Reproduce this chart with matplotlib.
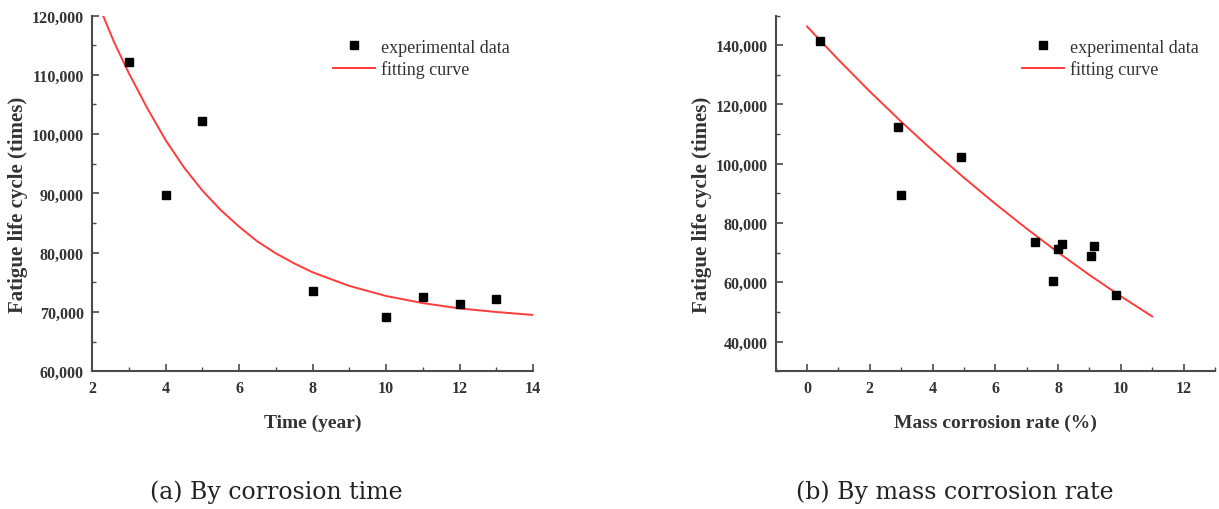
#!/usr/bin/env python3
"""Fatigue life cycle vs corrosion time / mass corrosion rate (two panels)."""

import matplotlib
matplotlib.use("Agg")
import matplotlib.pyplot as plt
from matplotlib.ticker import MultipleLocator, FuncFormatter

# ---------------------------------------------------------------------------
# Data
# ---------------------------------------------------------------------------
# (a) by corrosion time
time_years = [3, 4, 5, 8, 10, 11, 12, 13]
time_life = [112200, 89700, 102200, 73500, 69100, 72600, 71300, 72200]

time_fit_x = [2.3, 2.6, 3, 3.5, 4, 4.5, 5, 5.5, 6, 6.5, 7, 7.5, 8, 9, 10, 11, 12, 13, 14]
time_fit_y = [120000, 115500, 110300, 104400, 99000, 94400, 90500, 87200, 84400,
              81900, 79900, 78200, 76700, 74400, 72700, 71500, 70600, 70000, 69500]

# (b) by mass corrosion rate
rate_pct = [0.4, 2.9, 3.0, 4.9, 7.25, 7.85, 8.0, 8.12, 9.05, 9.15, 9.85]
rate_life = [141300, 112300, 89600, 102200, 73500, 60400, 71400, 72800, 69000, 72200, 55700]

rate_fit_x = [0, 1, 2, 3, 4, 5, 6, 7, 8, 9, 10, 11]
rate_fit_y = [146300, 135100, 124400, 114200, 104500, 95300, 86500, 78100,
              70100, 62500, 55300, 48500]

captions = ["(a) By corrosion time", "(b) By mass corrosion rate"]

SERIF = ["Liberation Serif", "DejaVu Serif"]
AX_COLOR = "#4a4a4a"
FIT_COLOR = "#ff3b3b"


def style_axes(ax, xmajor, xminor, ymajor, yminor):
    for side in ("top", "right"):
        ax.spines[side].set_visible(False)
    for side in ("left", "bottom"):
        ax.spines[side].set_color(AX_COLOR)
        ax.spines[side].set_linewidth(1.5)
    ax.xaxis.set_major_locator(MultipleLocator(xmajor))
    ax.xaxis.set_minor_locator(MultipleLocator(xminor))
    ax.yaxis.set_major_locator(MultipleLocator(ymajor))
    ax.yaxis.set_minor_locator(MultipleLocator(yminor))
    ax.yaxis.set_major_formatter(FuncFormatter(lambda v, p: f"{int(v):,}"))
    ax.tick_params(which="major", direction="in", length=5, width=1.2, color=AX_COLOR,
                   labelsize=11.5, pad=6)
    ax.tick_params(which="minor", direction="in", length=3, width=1.0, color=AX_COLOR)
    for lab in ax.get_xticklabels() + ax.get_yticklabels():
        lab.set_fontfamily(SERIF)
        lab.set_fontweight("bold")
        lab.set_color("#333333")


def draw_panel(ax, x, y, fx, fy, xlabel, legend_anchor):
    ax.plot(x, y, linestyle="none", marker="s", markersize=6, color="black",
            label="experimental data", zorder=3)
    ax.plot(fx, fy, color=FIT_COLOR, linewidth=1.4, label="fitting curve", zorder=2)
    ax.set_xlabel(xlabel, fontfamily=SERIF, fontweight="bold", fontsize=14,
                  color="#333333", labelpad=13)
    ax.set_ylabel("Fatigue life cycle (times)", fontfamily=SERIF, fontweight="bold",
                  fontsize=15, color="#333333")
    ax.yaxis.set_label_coords(-0.145, 0.47)
    leg = ax.legend(loc="upper left", bbox_to_anchor=legend_anchor, frameon=False,
                    prop={"family": SERIF, "size": 13}, handlelength=2.3,
                    handletextpad=0.35, labelspacing=0.25, borderaxespad=0)
    for t in leg.get_texts():
        t.set_color("#333333")


fig = plt.figure(figsize=(12.19, 5.10), dpi=100)

ax1 = fig.add_axes([0.0755, 0.270, 0.3618, 0.6976])
ax1.set_xlim(2, 14)
ax1.set_ylim(60000, 120000)
draw_panel(ax1, time_years, time_life, time_fit_x, time_fit_y, "Time (year)", (0.53, 0.955))
style_axes(ax1, 2, 1, 10000, 5000)

ax2 = fig.add_axes([0.6363, 0.270, 0.3604, 0.6976])
ax2.set_xlim(-1, 13)
ax2.set_ylim(30000, 150000)
draw_panel(ax2, rate_pct, rate_life, rate_fit_x, rate_fit_y, "Mass corrosion rate (%)", (0.545, 0.955))
style_axes(ax2, 2, 1, 20000, 10000)

fig.text(0.227, 0.035, captions[0], ha="center", va="center", fontfamily="DejaVu Serif",
         fontsize=17, color="#222222")
fig.text(0.783, 0.035, captions[1], ha="center", va="center", fontfamily="DejaVu Serif",
         fontsize=17, color="#222222")

fig.savefig("out.png", dpi=100)
